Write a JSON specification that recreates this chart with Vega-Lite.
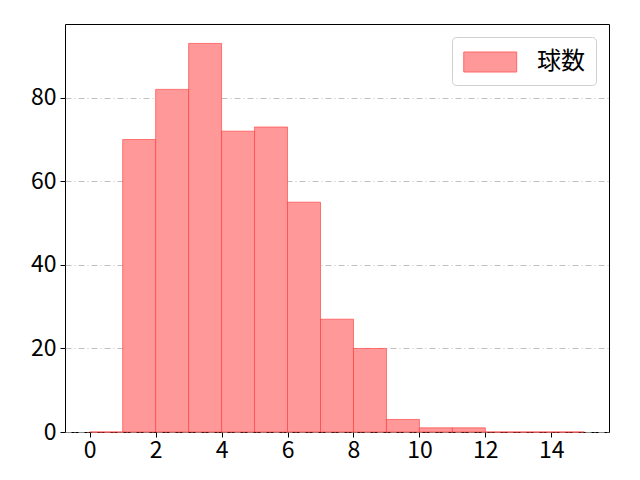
{
  "$schema": "https://vega.github.io/schema/vega-lite/v6.json",
  "width": 544,
  "height": 408,
  "autosize": {"type": "none"},
  "padding": {"left": 65, "top": 24, "right": 31, "bottom": 48},
  "background": "white",
  "config": {
    "font": "Noto Sans CJK JP",
    "view": {"stroke": "black", "strokeWidth": 1}
  },
  "data": {
    "values": [
      {"bin_start": 0, "bin_end": 1, "count": 0, "series": "球数"},
      {"bin_start": 1, "bin_end": 2, "count": 70, "series": "球数"},
      {"bin_start": 2, "bin_end": 3, "count": 82, "series": "球数"},
      {"bin_start": 3, "bin_end": 4, "count": 93, "series": "球数"},
      {"bin_start": 4, "bin_end": 5, "count": 72, "series": "球数"},
      {"bin_start": 5, "bin_end": 6, "count": 73, "series": "球数"},
      {"bin_start": 6, "bin_end": 7, "count": 55, "series": "球数"},
      {"bin_start": 7, "bin_end": 8, "count": 27, "series": "球数"},
      {"bin_start": 8, "bin_end": 9, "count": 20, "series": "球数"},
      {"bin_start": 9, "bin_end": 10, "count": 3, "series": "球数"},
      {"bin_start": 10, "bin_end": 11, "count": 1, "series": "球数"},
      {"bin_start": 11, "bin_end": 12, "count": 1, "series": "球数"},
      {"bin_start": 12, "bin_end": 13, "count": 0, "series": "球数"},
      {"bin_start": 13, "bin_end": 14, "count": 0, "series": "球数"},
      {"bin_start": 14, "bin_end": 15, "count": 0, "series": "球数"}
    ]
  },
  "mark": {"type": "bar", "fillOpacity": 1, "stroke": "#ff3333", "strokeOpacity": 0.6, "strokeWidth": 1},
  "encoding": {
    "x": {
      "field": "bin_start", "type": "quantitative",
      "scale": {"domain": [-0.75, 15.75], "nice": false, "zero": false},
      "axis": {"values": [0, 2, 4, 6, 8, 10, 12, 14], "title": null, "grid": false, "domain": false,
        "labelFontSize": 23, "labelColor": "black", "tickColor": "black", "tickSize": 5, "labelPadding": 2, "labelFlush": false}
    },
    "x2": {"field": "bin_end"},
    "y": {
      "field": "count", "type": "quantitative",
      "scale": {"domain": [0, 97.65], "nice": false},
      "axis": {"values": [0, 20, 40, 60, 80], "title": null, "domain": false,
        "labelFontSize": 23, "labelColor": "black", "tickColor": "black", "tickSize": 5, "labelPadding": 4,
        "grid": true, "gridColor": "#b0b0b0", "gridDash": [6, 3, 1, 3], "gridWidth": 0.8}
    },
    "y2": {"datum": 0},
    "color": {
      "field": "series", "type": "nominal",
      "scale": {"range": ["#ff9999"]},
      "legend": {
        "title": null, "orient": "top-right", "offset": 13,
        "symbolType": "M-1,-0.755H3V0.755H-1Z", "symbolSize": 700,
        "symbolStrokeColor": "#ff6666", "symbolStrokeWidth": 1,
        "labelFontSize": 24, "labelColor": "black", "labelOffset": 46,
        "strokeColor": "#d0d0d0", "cornerRadius": 4, "padding": 11, "fillColor": "white"
      }
    }
  }
}
